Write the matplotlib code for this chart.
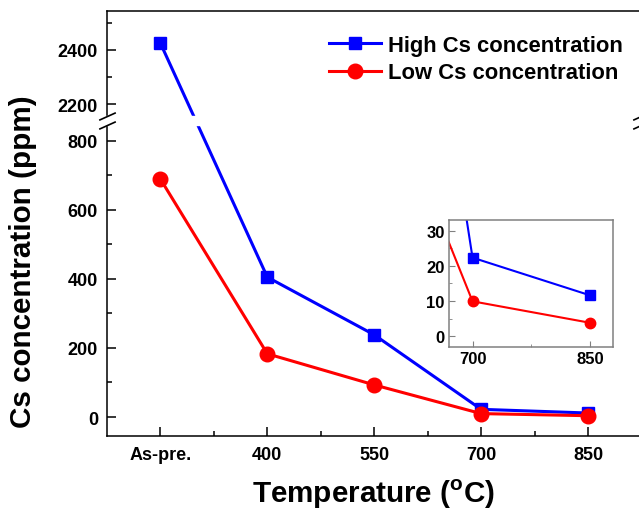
import matplotlib
matplotlib.use("Agg")
import matplotlib.pyplot as plt
import numpy as np
from matplotlib.transforms import blended_transform_factory

plt.rcParams["font.family"] = "Liberation Sans"
plt.rcParams["font.weight"] = "bold"
plt.rcParams["mathtext.fontset"] = "custom"
plt.rcParams["mathtext.rm"] = "Liberation Sans:bold"
plt.rcParams["mathtext.bf"] = "Liberation Sans:bold"

# Data
categories = ["As-pre.", "400", "550", "700", "850"]
high_cs = [2425, 405, 238, 22.3, 11.6]
low_cs = [689, 183, 93, 9.9, 3.8]

# Broken y axis: lower part up to LOW_TOP, upper part from HIGH_BOT
LOW_TOP, HIGH_BOT = 845, 2155
GAP = 26
K = 0.7826


def fwd(y):
    y = np.asarray(y, dtype=float)
    mid = LOW_TOP + (y - LOW_TOP) / (HIGH_BOT - LOW_TOP) * GAP
    up = LOW_TOP + GAP + (y - HIGH_BOT) * K
    return np.where(y <= LOW_TOP, y, np.where(y >= HIGH_BOT, up, mid))


def inv(v):
    v = np.asarray(v, dtype=float)
    mid = LOW_TOP + (v - LOW_TOP) / GAP * (HIGH_BOT - LOW_TOP)
    up = HIGH_BOT + (v - LOW_TOP - GAP) / K
    return np.where(v <= LOW_TOP, v, np.where(v >= LOW_TOP + GAP, up, mid))


fig = plt.figure(figsize=(6.39, 5.10), dpi=100)
ax = fig.add_axes([0.1674, 0.1431, 0.8365, 0.8333])
ax.set_yscale("function", functions=(fwd, inv))

x = np.arange(len(categories))
ax.plot(x, high_cs, color="blue", lw=2.2, marker="s", ms=9,
        label="High Cs concentration")
ax.plot(x, low_cs, color="red", lw=2.2, marker="o", ms=10.5,
        label="Low Cs concentration")

ax.set_xlim(-0.5, 4.5)
ax.set_ylim(-55, 2544)

ax.set_xticks(x)
ax.set_xticklabels(categories)
ax.set_xticks(x[:-1] + 0.5, minor=True)
ax.set_yticks([0, 200, 400, 600, 800, 2200, 2400])
ax.set_yticks([100, 300, 500, 700, 2300, 2500], minor=True)
ax.tick_params(which="both", direction="in", width=1.1, labelsize=13)
ax.tick_params(which="major", length=6.8)
ax.tick_params(which="minor", length=3.6)
ax.tick_params(axis="y", pad=6.5)
ax.tick_params(axis="x", pad=7.5)
for s in ax.spines.values():
    s.set_linewidth(1.1)

# break gap and slashes
ax.axhspan(LOW_TOP, HIGH_BOT, xmin=-0.03, xmax=1.03, color="white",
           zorder=3, clip_on=False)
tr = blended_transform_factory(ax.transAxes, ax.transData)
for yv in (LOW_TOP, HIGH_BOT):
    ax.plot([0, 1], [yv, yv], transform=tr, ls="none",
            marker=[(-1, -0.45), (1, 0.45)], ms=12, mew=1.2, color="k",
            clip_on=False, zorder=4)

ax.legend(loc="upper left", bbox_to_anchor=(329 / 639, 0.930),
          bbox_transform=fig.transFigure, frameon=False, fontsize=15.8,
          handlelength=2.36, handletextpad=0.32, labelspacing=0.30,
          borderpad=0, borderaxespad=0)

fig.text(23 / 639, 1 - 262 / 510, "Cs concentration (ppm)", rotation=90,
         ha="center", va="center", fontsize=21.3)
fig.text(374 / 639, 7 / 510, r"Temperature ($^{\mathbf{o}}$C)",
         ha="center", va="baseline", fontsize=21.3)

# Inset zoom on 700 / 850
axins = fig.add_axes([0.7027, 0.3182, 0.2562, 0.2485])
inset_x = [int(c) for c in categories[2:]]
axins.plot(inset_x, high_cs[2:], color="blue", lw=1.5, marker="s", ms=7)
axins.plot(inset_x, low_cs[2:], color="red", lw=1.5, marker="o", ms=7.5)
axins.set_xlim(670, 879)
axins.set_ylim(-3, 33)
axins.set_xticks([700, 850])
axins.set_xticks([775], minor=True)
axins.set_yticks([0, 10, 20, 30])
axins.set_yticks([5, 15, 25], minor=True)
axins.tick_params(which="both", direction="in", color="#808080",
                  labelsize=12, pad=3)
axins.tick_params(which="major", length=4)
axins.tick_params(which="minor", length=2)
for s in axins.spines.values():
    s.set_color("#808080")
    s.set_linewidth(1.1)

fig.savefig("out.png", dpi=100)
